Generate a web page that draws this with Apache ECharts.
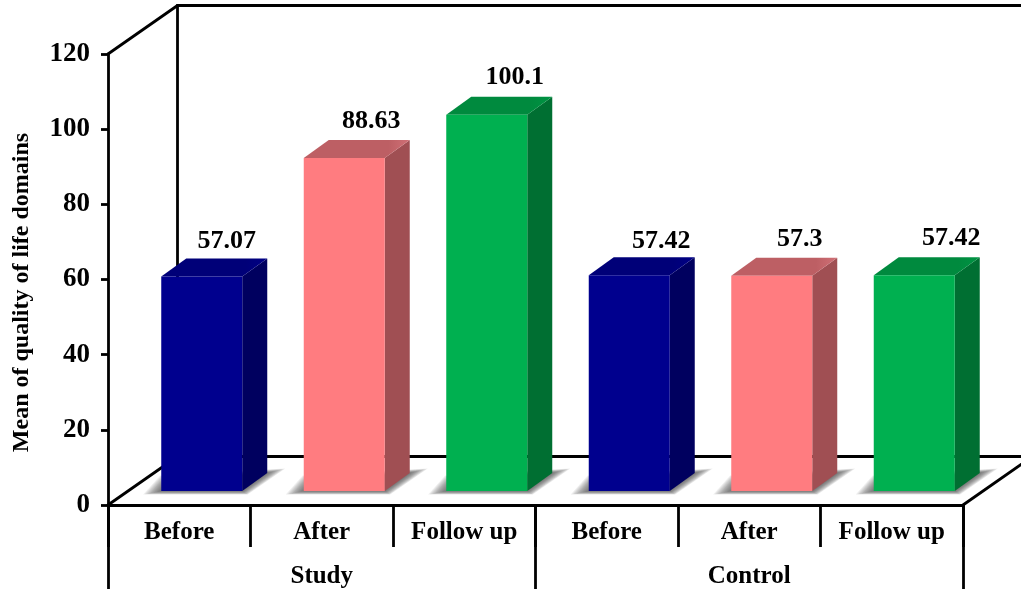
<!DOCTYPE html>
<html>
<head>
<meta charset="utf-8">
<title>Mean of quality of life domains</title>
<style>
  html, body { margin: 0; padding: 0; background: #fff; overflow: hidden; }
  #main { width: 1021px; height: 589px; }
</style>
<script src="https://cdn.jsdelivr.net/npm/echarts@6/dist/echarts.min.js"></script>
</head>
<body>
<div id="main"></div>
<script>
// values
var categories = ['Before', 'After', 'Follow up', 'Before', 'After', 'Follow up'];
var groups = ['Study', 'Control'];
var values = [57.07, 88.63, 100.1, 57.42, 57.3, 57.42];
var yTicks = { min: 0, max: 120, interval: 20 };
var yTitle = 'Mean of quality of life domains';

var FONT = '"Liberation Serif", "Times New Roman", serif';

// front, top, top highlight, side
var palette = [
    ['#00008e', '#000078', '#000086', '#00005f'],
    ['#ff7c80', '#bd5f64', '#d07076', '#a04f53'],
    ['#00b050', '#008a3e', '#009443', '#006f32']
];

// 3d look, in pixels
var wallDx = 69.5, wallDy = -48.5;   //depth of the floor
var barDx = 22.5, barDy = -14;       //bars stand a little inside the floor
var barWidth = 81;
var depthX = 25, depthY = -18;       //depth of a bar
// where each value label sits, relative to the bar's front top centre
var labelOffsets = [[25, -35], [27, -37], [28, -38], [32, -34], [28, -36], [37, -37]];

var chart = echarts.init(document.getElementById('main'));

function renderFrame(params, api) {
    var g = params.coordSys;
    var left = g.x, right = g.x + g.width, top = g.y, bottom = g.y + g.height;
    var style = { stroke: '#000', lineWidth: 2.8, lineCap: 'round' };
    var segs = [
        [left, top, left + wallDx, top + wallDy],
        [left + wallDx, top + wallDy, right + wallDx, top + wallDy],
        [left + wallDx, top + wallDy, left + wallDx, bottom + wallDy],
        [left + wallDx, bottom + wallDy, right + wallDx, bottom + wallDy],
        [left, bottom, left + wallDx, bottom + wallDy],
        [right, bottom, right + wallDx, bottom + wallDy]
    ];
    return {
        type: 'group',
        children: segs.map(function (s) {
            return { type: 'line', shape: { x1: s[0], y1: s[1], x2: s[2], y2: s[3] }, style: style };
        })
    };
}

// soft shadow on the floor, stacked see-through layers from wide to narrow
function shadowLayers(x0, x1, yBase) {
    var layers = [];
    for (var e = 18; e >= 0; e -= 1.5) {
        layers.push({
            type: 'polygon',
            shape: {
                points: [
                    [x0 - e, yBase + e * 0.2],
                    [x1 + e * 0.3, yBase + e * 0.2],
                    [x1 + depthX + e, yBase + depthY - e * 0.25],
                    [x0 + 8 - e * 0.5, yBase - 10 - e * 0.3]
                ]
            },
            style: { fill: 'rgba(70,70,70,0.09)' }
        });
    }
    return layers;
}

function renderBar(params, api) {
    var idx = api.value(0);
    var val = api.value(1);
    var topPt = api.coord([idx, val]);
    var basePt = api.coord([idx, 0]);
    var colors = palette[idx % 3];

    var x0 = topPt[0] + barDx - barWidth / 2;
    var x1 = x0 + barWidth;
    var yTop = topPt[1] + barDy;
    var yBase = basePt[1] + barDy;
    var off = labelOffsets[idx];

    return {
        type: 'group',
        children: shadowLayers(x0, x1, yBase).concat([
            // side
            {
                type: 'polygon',
                shape: { points: [[x1, yTop], [x1 + depthX, yTop + depthY], [x1 + depthX, yBase + depthY], [x1, yBase]] },
                style: { fill: colors[3] }
            },
            // top
            {
                type: 'polygon',
                shape: { points: [[x0, yTop], [x0 + depthX, yTop + depthY], [x1 + depthX, yTop + depthY], [x1, yTop]] },
                style: {
                    fill: new echarts.graphic.LinearGradient(0, 0, 1, 0, [
                        { offset: 0, color: colors[1] },
                        { offset: 0.8, color: colors[1] },
                        { offset: 1, color: colors[2] }
                    ])
                }
            },
            // front
            {
                type: 'rect',
                shape: { x: x0, y: yTop, width: barWidth, height: yBase - yTop },
                style: { fill: colors[0] }
            },
            // value
            {
                type: 'text',
                x: topPt[0] + barDx + off[0],
                y: yTop + off[1],
                style: {
                    text: String(val),
                    font: 'bold 26px ' + FONT,
                    fill: '#000',
                    align: 'center',
                    verticalAlign: 'middle'
                }
            }
        ])
    };
}

var option = {
    animation: false,
    backgroundColor: '#fff',
    grid: { left: 108, right: 58, top: 54, height: 451 },
    xAxis: [
        {
            type: 'category',
            data: categories,
            axisLine: { lineStyle: { color: '#000', width: 2.8 } },
            axisTick: { show: true, alignWithLabel: false, interval: 0, length: 42, lineStyle: { color: '#000', width: 2.8 } },
            axisLabel: { color: '#000', fontFamily: FONT, fontWeight: 'bold', fontSize: 25, margin: 15, interval: 0 }
        },
        {
            type: 'category',
            position: 'bottom',
            data: groups,
            axisLine: { show: true, lineStyle: { color: '#000', width: 2.8 } },
            axisTick: { show: true, alignWithLabel: false, interval: 0, length: 90, lineStyle: { color: '#000', width: 2.8 } },
            axisLabel: { color: '#000', fontFamily: FONT, fontWeight: 'bold', fontSize: 25, margin: 59, interval: 0 }
        }
    ],
    yAxis: {
        type: 'value',
        min: yTicks.min,
        max: yTicks.max,
        interval: yTicks.interval,
        name: yTitle,
        nameLocation: 'middle',
        nameGap: 74,
        nameRotate: 90,
        nameTextStyle: { color: '#000', fontFamily: FONT, fontWeight: 'bold', fontSize: 24, padding: [0, 26, 0, 0] },
        axisLine: { show: true, lineStyle: { color: '#000', width: 2.8 } },
        axisTick: { show: true, length: 7, lineStyle: { color: '#000', width: 2.8 } },
        axisLabel: { color: '#000', fontFamily: FONT, fontWeight: 'bold', fontSize: 27, margin: 18 },
        splitLine: { show: false }
    },
    series: [
        { type: 'custom', name: 'frame', renderItem: renderFrame, data: [0], z: 1, silent: true },
        {
            type: 'custom',
            name: 'Mean',
            renderItem: renderBar,
            encode: { x: 0, y: 1 },
            data: values.map(function (v, i) { return [i, v]; }),
            z: 3
        }
    ]
};

chart.setOption(option);
</script>
</body>
</html>
